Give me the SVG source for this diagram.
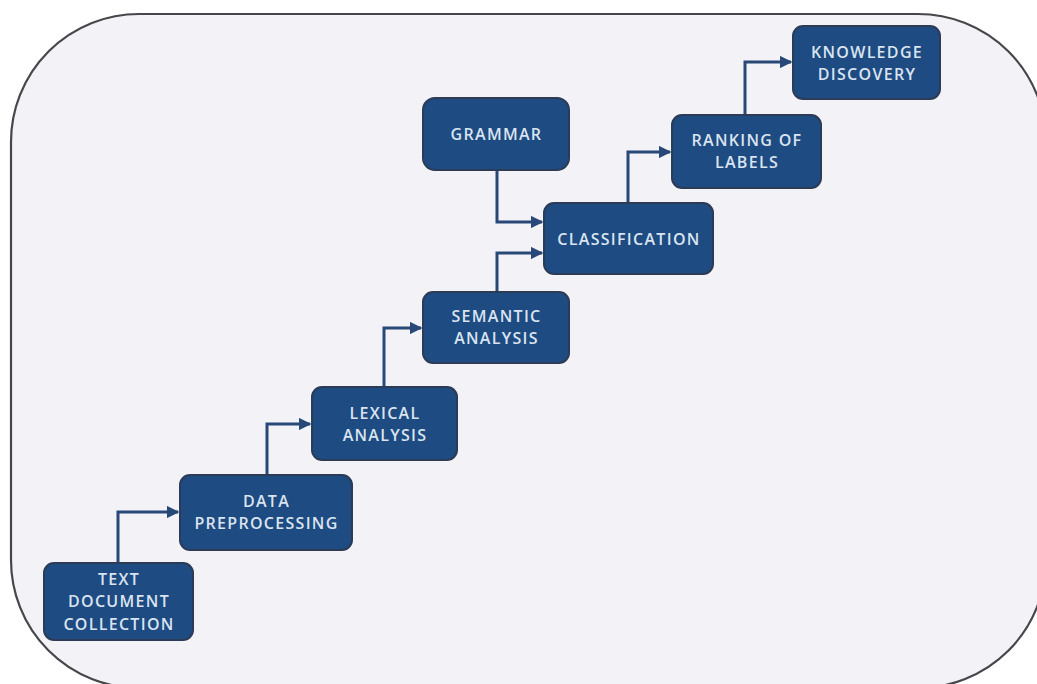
<svg xmlns="http://www.w3.org/2000/svg" width="1037" height="684" viewBox="0 0 1037 684">
<defs>
<style>
.box{fill:#1e4b82;stroke:#2c3b56;stroke-width:2}
.lbl{fill:#dae4f0;font-family:"Open Sans","Liberation Sans",sans-serif;font-size:16px;font-weight:600;text-anchor:middle;letter-spacing:1.3px}
.con{fill:none;stroke:#284878;stroke-width:3}
</style>
<marker id="ah" viewBox="0 0 10 10" refX="9" refY="5" markerWidth="4.2" markerHeight="4.2" orient="auto" markerUnits="strokeWidth">
<path d="M0,0 L10,5 L0,10 z" fill="#284878"/>
</marker>
</defs>
<rect x="0" y="0" width="1037" height="684" fill="#ffffff"/>
<rect x="11" y="14" width="1035" height="674" rx="128" ry="128" fill="#f3f3f7" stroke="#46474a" stroke-width="2.2"/>
<g id="connectors">
<path class="con" d="M118,563 V512 H178" marker-end="url(#ah)"/>
<path class="con" d="M267,475 V424 H310" marker-end="url(#ah)"/>
<path class="con" d="M384,387 V328 H421" marker-end="url(#ah)"/>
<path class="con" d="M497,292 V253 H542" marker-end="url(#ah)"/>
<path class="con" d="M497,170 V222 H542" marker-end="url(#ah)"/>
<path class="con" d="M628,203 V152 H670" marker-end="url(#ah)"/>
<path class="con" d="M745,115 V62 H791" marker-end="url(#ah)"/>
</g>
<g id="text-document-collection">
<rect class="box" x="44" y="563" width="149" height="77" rx="10"/>
<text class="lbl" x="119" y="585">TEXT</text>
<text class="lbl" x="119" y="607">DOCUMENT</text>
<text class="lbl" x="119" y="630">COLLECTION</text>
</g>
<g id="data-preprocessing">
<rect class="box" x="180" y="475" width="172" height="75" rx="10"/>
<text class="lbl" x="266.5" y="507">DATA</text>
<text class="lbl" x="266.5" y="529">PREPROCESSING</text>
</g>
<g id="lexical-analysis">
<rect class="box" x="312" y="387" width="145" height="73" rx="10"/>
<text class="lbl" x="385" y="419">LEXICAL</text>
<text class="lbl" x="385" y="441">ANALYSIS</text>
</g>
<g id="semantic-analysis">
<rect class="box" x="423" y="292" width="146" height="71" rx="10"/>
<text class="lbl" x="496.5" y="322">SEMANTIC</text>
<text class="lbl" x="496.5" y="344">ANALYSIS</text>
</g>
<g id="grammar">
<rect class="box" x="423" y="98" width="146" height="72" rx="12"/>
<text class="lbl" x="496.5" y="140">GRAMMAR</text>
</g>
<g id="classification">
<rect class="box" x="544" y="203" width="169" height="71" rx="10"/>
<text class="lbl" x="629" y="245">CLASSIFICATION</text>
</g>
<g id="ranking-of-labels">
<rect class="box" x="672" y="115" width="149" height="73" rx="10"/>
<text class="lbl" x="747" y="146">RANKING OF</text>
<text class="lbl" x="747" y="168">LABELS</text>
</g>
<g id="knowledge-discovery">
<rect class="box" x="793" y="26" width="147" height="73" rx="10"/>
<text class="lbl" x="867" y="58">KNOWLEDGE</text>
<text class="lbl" x="867" y="80">DISCOVERY</text>
</g>
</svg>
